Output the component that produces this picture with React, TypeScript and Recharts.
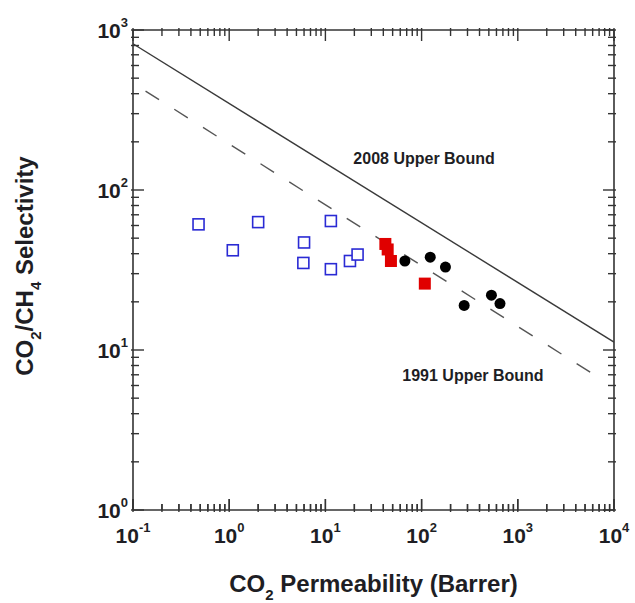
import { ScatterChart, Scatter, XAxis, YAxis, ReferenceDot, ReferenceLine } from 'recharts'

const FONT = '"Liberation Sans", Arial, Helvetica, sans-serif'
const INK = '#1e1e24'
const AXIS = '#333'
const BLUE = '#2a2ad4'
const RED = '#e00000'

const W = 635
const H = 603
const M = { top: 30, right: 21, bottom: 0, left: 0 }
const Y_AXIS_W = 133
const X_AXIS_H = 93
const PLOT_W = W - M.left - M.right - Y_AXIS_W
const PLOT_H = H - M.top - M.bottom - X_AXIS_H

// decades shown on each log axis
const xDecades = [0.1, 1, 10, 100, 1000, 10000]
const yDecades = [1, 10, 100, 1000]
const minorSteps = [1, 2, 3, 4, 5, 6, 7, 8, 9]

// CO2 permeability (Barrer) vs CO2/CH4 selectivity
const openSquares = [
  { x: 0.48, y: 61 },
  { x: 1.09, y: 42 },
  { x: 2.0, y: 63 },
  { x: 6.0, y: 47 },
  { x: 5.9, y: 35 },
  { x: 11.4, y: 64 },
  { x: 11.4, y: 32 },
  { x: 18, y: 36 },
  { x: 21.6, y: 39.5 },
]
const redSquares = [
  { x: 42, y: 46 },
  { x: 44.4, y: 42.5 },
  { x: 48, y: 36 },
  { x: 108, y: 26 },
]
const blackCircles = [
  { x: 67, y: 36 },
  { x: 123, y: 38 },
  { x: 177, y: 33 },
  { x: 277, y: 19 },
  { x: 532, y: 22 },
  { x: 653, y: 19.5 },
]
const bound2008 = [
  { x: 0.1, y: 820 },
  { x: 10000, y: 11.2 },
]
const bound1991 = [
  { x: 0.135, y: 415 },
  { x: 7000, y: 6.7 },
]

const ticksFor = (decades: number[]) =>
  decades.flatMap((d, i) => (i === decades.length - 1 ? [d] : minorSteps.map((m) => d * m)))

const xTicks = ticksFor(xDecades)
const yTicks = ticksFor(yDecades)

const expOf = (v: number) => Math.round(Math.log10(v))
const isMajor = (v: number) => Math.abs(Math.log10(v) - expOf(v)) < 1e-6
const tickLen = (v: number) => (isMajor(v) ? 11 : 6)
// the same tick lengths expressed along the log y axis (PLOT_H spans 3 decades)
const tickTop = (v: number) => Math.pow(10, tickLen(v) / (PLOT_H / 3))

// ticks point inward on all four sides; top/right are mirrored from bottom/left
function BottomTick(props: any) {
  const x = Number(props.x)
  const y = Number(props.y)
  const v = props.payload.value
  const top = y - PLOT_H
  return (
    <g>
      <path d={`M${x},${y + 2}V${y - tickLen(v)}`} stroke={AXIS} strokeWidth={1.4} fill="none" />
      <path d={`M${x},${top - 2}V${top + tickLen(v)}`} stroke={AXIS} strokeWidth={1.4} fill="none" />
      {isMajor(v) && (
        <text x={x} y={y + 33} textAnchor="middle" fill={INK} fontSize={21} fontWeight="bold" fontFamily={FONT}>
          10<tspan dy={-11} fontSize={13}>{expOf(v)}</tspan>
        </text>
      )}
    </g>
  )
}

function LeftTick(props: any) {
  const x = Number(props.x)
  const y = Number(props.y)
  const v = props.payload.value
  const right = x + PLOT_W
  return (
    <g>
      <line x1={x - 2} x2={x + tickLen(v)} y1={y} y2={y} stroke={AXIS} strokeWidth={1.4} />
      <line x1={right + 2} x2={right - tickLen(v)} y1={y} y2={y} stroke={AXIS} strokeWidth={1.4} />
      {isMajor(v) && (
        <text x={x - 5} y={y + 8} textAnchor="end" fill={INK} fontSize={21} fontWeight="bold" fontFamily={FONT}>
          10<tspan dy={-11} fontSize={13}>{expOf(v)}</tspan>
        </text>
      )}
    </g>
  )
}

function XTitle(props: any) {
  const vb = props.viewBox ?? { x: Y_AXIS_W, y: M.top + PLOT_H, width: PLOT_W, height: X_AXIS_H }
  return (
    <text x={vb.x + vb.width / 2} y={vb.y + 82} textAnchor="middle" fill={INK} fontSize={24} fontWeight="bold" fontFamily={FONT}>
      CO<tspan dy={8} fontSize={15}>2</tspan>
      <tspan dy={-8}> Permeability (Barrer)</tspan>
    </text>
  )
}

function YTitle(props: any) {
  const vb = props.viewBox ?? { x: 0, y: M.top, width: Y_AXIS_W, height: PLOT_H }
  const cx = vb.x + 33
  const cy = vb.y + vb.height / 2 - 4
  return (
    <text x={cx} y={cy} transform={`rotate(-90 ${cx} ${cy})`} textAnchor="middle" fill={INK} fontSize={24} fontWeight="bold" fontFamily={FONT}>
      CO<tspan dy={8} fontSize={15}>2</tspan>
      <tspan dy={-8}>/CH</tspan>
      <tspan dy={8} fontSize={15}>4</tspan>
      <tspan dy={-8}> Selectivity</tspan>
    </text>
  )
}

const openSquare = (p: any) => (
  <rect x={p.cx - 5.5} y={p.cy - 5.5} width={11} height={11} fill="#fff" stroke={BLUE} strokeWidth={1.6} />
)
const filledSquare = (p: any) => <rect x={p.cx - 6} y={p.cy - 6} width={12} height={12} fill={RED} />
const dot = (p: any) => <circle cx={p.cx} cy={p.cy} r={5.5} fill="#000" />
const none = () => <g />

const axisLine = { stroke: AXIS, strokeWidth: 1.6 }
const boundLabel = { position: 'center' as const, fill: INK, fontSize: 16, fontWeight: 'bold', fontFamily: FONT }

export default function App() {
  return (
    <div style={{ position: 'absolute', left: 0, top: 0, background: '#fff' }}>
      <ScatterChart width={W} height={H} margin={M}>
        <XAxis
          dataKey="x"
          type="number"
          scale="log"
          domain={[0.1, 10000]}
          allowDataOverflow
          ticks={xTicks}
          interval={0}
          height={X_AXIS_H}
          tickSize={0}
          tickMargin={0}
          tickLine={false}
          axisLine={false}
          tick={BottomTick}
          label={{ content: XTitle }}
        />
        <YAxis
          dataKey="y"
          type="number"
          scale="log"
          domain={[1, 1000]}
          allowDataOverflow
          ticks={yTicks}
          interval={0}
          width={Y_AXIS_W}
          tickSize={0}
          tickMargin={0}
          tickLine={false}
          axisLine={axisLine}
          tick={LeftTick}
          label={{ content: YTitle }}
        />

        {/* frame: bottom, top and right edges */}
        <ReferenceLine y={1} stroke={AXIS} strokeWidth={1.6} ifOverflow="visible" />
        <ReferenceLine y={1000} stroke={AXIS} strokeWidth={1.6} ifOverflow="visible" />
        <ReferenceLine x={10000} stroke={AXIS} strokeWidth={1.6} ifOverflow="visible" />

        <Scatter data={bound2008} line={{ stroke: '#3a3a3a', strokeWidth: 1.4 }} shape={none} isAnimationActive={false} />
        <Scatter data={bound1991} line={{ stroke: '#555', strokeWidth: 1.4, strokeDasharray: '16 18' }} shape={none} isAnimationActive={false} />

        <ReferenceDot x={106} y={158} r={0} fill="none" stroke="none" label={{ value: '2008 Upper Bound', ...boundLabel }} />
        <ReferenceDot x={342} y={6.9} r={0} fill="none" stroke="none" label={{ value: '1991 Upper Bound', ...boundLabel }} />

        <Scatter data={openSquares} shape={openSquare} isAnimationActive={false} />
        <Scatter data={redSquares} shape={filledSquare} isAnimationActive={false} />
        <Scatter data={blackCircles} shape={dot} isAnimationActive={false} />

        {xTicks.map((v) => (
          <ReferenceLine
            key={`bt-${v}`}
            segment={[{ x: v, y: 1 }, { x: v, y: tickTop(v) }]}
            stroke={AXIS}
            strokeWidth={1.4}
            ifOverflow="visible"
          />
        ))}
      </ScatterChart>
    </div>
  )
}
